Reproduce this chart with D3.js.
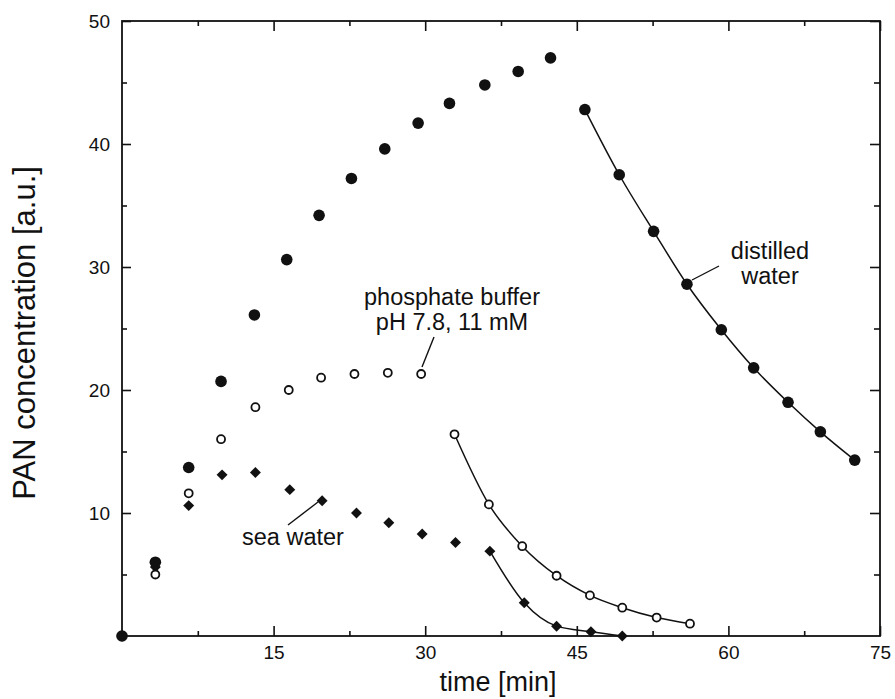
<!DOCTYPE html>
<html>
<head>
<meta charset="utf-8">
<script src="https://cdn.jsdelivr.net/npm/d3@7"></script>
<style>
  body { margin: 0; background: #fff; }
  text { font-family: "Liberation Sans", Arial, Helvetica, sans-serif; fill: #111; }
  .axis .domain { display: none; }
  .axis line { stroke: #111; stroke-width: 1.6; }
</style>
</head>
<body>
<div id="chart"></div>
<script>
// distilled water (filled circles)
const distilledTime = [0, 3.3, 6.6, 9.8, 13.1, 16.3, 19.5, 22.7, 26.0, 29.3, 32.4, 35.9, 39.2, 42.4];
const distilledValue = [0, 6.0, 13.7, 20.7, 26.1, 30.6, 34.2, 37.2, 39.6, 41.7, 43.3, 44.8, 45.9, 47.0];
const distilledDecayTime = [45.8, 49.2, 52.6, 55.9, 59.3, 62.5, 65.9, 69.1, 72.5];
const distilledDecayValue = [42.8, 37.5, 32.9, 28.6, 24.9, 21.8, 19.0, 16.6, 14.3];

// phosphate buffer (open circles)
const phosphateTime = [0, 3.3, 6.6, 9.8, 13.2, 16.5, 19.7, 23.0, 26.3, 29.6];
const phosphateValue = [0, 5.0, 11.6, 16.0, 18.6, 20.0, 21.0, 21.3, 21.4, 21.3];
const phosphateDecayTime = [32.9, 36.3, 39.6, 43.0, 46.3, 49.5, 52.9, 56.2];
const phosphateDecayValue = [16.4, 10.7, 7.3, 4.9, 3.3, 2.3, 1.5, 1.0];

// sea water (filled diamonds)
const seaTime = [0, 3.3, 6.6, 9.9, 13.2, 16.6, 19.8, 23.2, 26.4, 29.7, 33.0];
const seaValue = [0, 5.6, 10.6, 13.1, 13.3, 11.9, 11.0, 10.0, 9.2, 8.3, 7.6];
const seaDecayTime = [36.4, 39.8, 43.0, 46.4, 49.5];
const seaDecayValue = [6.9, 2.7, 0.8, 0.35, 0.0];

// ticks
const xMajorTicks = [15, 30, 45, 60, 75];
const xMinorTicks = [7.5, 22.5, 37.5, 52.5, 67.5];
const yMajorTicks = [10, 20, 30, 40, 50];
const yMinorTicks = [5, 15, 25, 35, 45];

const zip = (xs, ys) => xs.map((x, i) => ({ t: x, v: ys[i] }));

const config = {
  width: 895,
  height: 699,
  margin: { top: 21, right: 15, bottom: 63, left: 122 },
};
const innerW = config.width - config.margin.left - config.margin.right;
const innerH = config.height - config.margin.top - config.margin.bottom;

const svg = d3.select('#chart').append('svg')
  .attr('width', config.width)
  .attr('height', config.height);

const g = svg.append('g')
  .attr('transform', `translate(${config.margin.left},${config.margin.top})`);

const x = d3.scaleLinear().domain([0, 75]).range([0, innerW]);
const y = d3.scaleLinear().domain([0, 50]).range([innerH, 0]);

// frame
g.append('rect')
  .attr('width', innerW)
  .attr('height', innerH)
  .attr('fill', 'none')
  .attr('stroke', '#111')
  .attr('stroke-width', 1.8);

// bottom axis
g.append('g').attr('class', 'axis')
  .attr('transform', `translate(0,${innerH})`)
  .call(d3.axisBottom(x).tickValues(xMajorTicks).tickSize(-10).tickPadding(10).tickFormat(d3.format('d')))
  .call((a) => a.selectAll('text').style('font-size', '19px'));
g.append('g').attr('class', 'axis')
  .attr('transform', `translate(0,${innerH})`)
  .call(d3.axisBottom(x).tickValues(xMinorTicks).tickSize(-5).tickFormat(''));

// top axis
g.append('g').attr('class', 'axis')
  .call(d3.axisTop(x).tickValues(xMajorTicks).tickSize(-10).tickFormat(''));
g.append('g').attr('class', 'axis')
  .call(d3.axisTop(x).tickValues(xMinorTicks).tickSize(-5).tickFormat(''));

// left axis
g.append('g').attr('class', 'axis')
  .call(d3.axisLeft(y).tickValues(yMajorTicks).tickSize(-9).tickPadding(12).tickFormat(d3.format('d')))
  .call((a) => a.selectAll('text').style('font-size', '19px'));
g.append('g').attr('class', 'axis')
  .call(d3.axisLeft(y).tickValues(yMinorTicks).tickSize(-5).tickFormat(''));

// right axis
g.append('g').attr('class', 'axis')
  .attr('transform', `translate(${innerW},0)`)
  .call(d3.axisRight(y).tickValues(yMajorTicks).tickSize(-10).tickFormat(''));
g.append('g').attr('class', 'axis')
  .attr('transform', `translate(${innerW},0)`)
  .call(d3.axisRight(y).tickValues(yMinorTicks).tickSize(-6).tickFormat(''));

// axis titles
svg.append('text')
  .attr('x', config.margin.left + x(37.2))
  .attr('y', 691)
  .attr('text-anchor', 'middle')
  .style('font-size', '27px')
  .text('time [min]');

svg.append('text')
  .attr('transform', 'translate(35,333) rotate(-90)')
  .attr('text-anchor', 'middle')
  .style('font-size', '31px')
  .text('PAN concentration [a.u.]');

// fitted decay curves
const line = d3.line()
  .x((d) => x(d.t))
  .y((d) => y(d.v))
  .curve(d3.curveMonotoneX);

[
  zip(distilledDecayTime, distilledDecayValue),
  zip(phosphateDecayTime, phosphateDecayValue),
  zip(seaDecayTime, seaDecayValue),
].forEach((pts) => {
  g.append('path')
    .datum(pts)
    .attr('d', line)
    .attr('fill', 'none')
    .attr('stroke', '#111')
    .attr('stroke-width', 1.5);
});

// sea water diamonds
const diamond = d3.symbol(d3.symbolSquare, 60);
g.selectAll('.sea')
  .data(zip(seaTime, seaValue).concat(zip(seaDecayTime, seaDecayValue)))
  .join('path')
  .attr('class', 'sea')
  .attr('d', diamond)
  .attr('transform', (d) => `translate(${x(d.t)},${y(d.v)}) rotate(45)`)
  .attr('fill', '#111');

// phosphate open circles
g.selectAll('.phos')
  .data(zip(phosphateTime, phosphateValue).concat(zip(phosphateDecayTime, phosphateDecayValue)))
  .join('circle')
  .attr('class', 'phos')
  .attr('cx', (d) => x(d.t))
  .attr('cy', (d) => y(d.v))
  .attr('r', 4)
  .attr('fill', '#fff')
  .attr('stroke', '#111')
  .attr('stroke-width', 1.8);

// distilled filled circles
g.selectAll('.dist')
  .data(zip(distilledTime, distilledValue).concat(zip(distilledDecayTime, distilledDecayValue)))
  .join('circle')
  .attr('class', 'dist')
  .attr('cx', (d) => x(d.t))
  .attr('cy', (d) => y(d.v))
  .attr('r', 5.8)
  .attr('fill', '#111');

// annotations
const annotate = (lines, cx, baseline, leader) => {
  const t = svg.append('text')
    .attr('text-anchor', 'middle')
    .style('font-size', '23.5px');
  lines.forEach((s, i) => {
    t.append('tspan').attr('x', cx).attr('y', baseline + i * 25).text(s);
  });
  svg.append('line')
    .attr('x1', leader[0]).attr('y1', leader[1])
    .attr('x2', leader[2]).attr('y2', leader[3])
    .attr('stroke', '#111')
    .attr('stroke-width', 1.4);
};

annotate(['phosphate buffer', 'pH 7.8, 11 mM'], 452, 305, [434, 337, 422, 367]);
annotate(['distilled', 'water'], 770, 259, [719, 266, 692, 280]);
annotate(['sea water'], 293, 545, [288, 525, 318, 502]);
</script>
</body>
</html>
